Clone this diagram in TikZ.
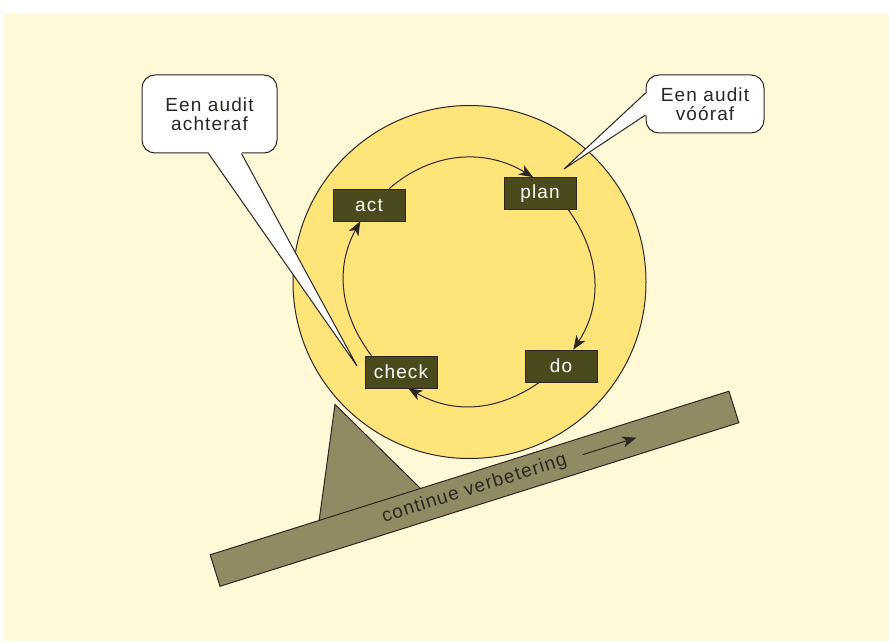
\documentclass[tikz,border=0pt]{standalone}
\usepackage{fontspec}
\setmainfont{Liberation Sans}[LetterSpace=6]
\usetikzlibrary{
  arrows.meta,
  positioning,
}
\definecolor{paper}{HTML}{FFF9D8}
\definecolor{wheel}{HTML}{FFE47A}
\definecolor{boxolive}{HTML}{4A4A1C}
\definecolor{ramp}{HTML}{918B63}
\definecolor{ink}{HTML}{2B2622}
\tikzset{
  >={Stealth[length=14pt,width=11pt,inset=4pt]},
}

\begin{document}
\begin{tikzpicture}[
    x=1pt, y=1pt,
    every node/.style={font=\fontsize{19}{19}\selectfont},
    phase/.style={draw=ink, fill=boxolive, text=white!92!paper,
      minimum width=72pt, minimum height=32pt, inner sep=0pt, line width=0.8pt},
    turn/.style={->, draw=ink, line width=1pt},
    balloon/.style={draw=ink, fill=white, text=ink, align=center,
      rounded corners=13pt, line width=1pt},
  ]
  % paper
  \fill[white] (0,0) rectangle (889,641);
  \fill[paper] (4,0) rectangle (889,628);
  \useasboundingbox (0,0) rectangle (889,641);

  % the wheel with the four steps
  \coordinate (hub) at (469.5,359);
  \draw[ink, fill=wheel, line width=1pt] (hub) circle (176.5);

  \node[phase] (act)   at (369,436)   {act};
  \node[phase] (plan)  at (540,447.5) {plan};
  \node[phase] (do)    at (561,275)   {do};
  \node[phase] (check) at (401,269)   {check};

  \draw[turn] (act.39)    to[out=41, in=149]  (plan.113);
  \draw[turn] (plan.-30)  to[out=-54, in=57]  (do.53);
  \draw[turn] (do.217)    to[out=-145, in=-30] (check.294);
  \draw[turn] (check.151) to[out=127, in=241] (act.242);

  % wedge and slope
  \draw[ink, fill=ramp, line width=1pt]
    (335,236.5) -- (318.2,113.6) -- (424.3,148.8) -- cycle;
  \node[draw=ink, fill=ramp, text=ink, line width=1pt, rotate=17.5,
    minimum width=544pt, minimum height=33pt] (bar) at (474.5,152.25)
    {continue verbetering};
  \coordinate (rise) at ([shift={(17.5:113.6)}]bar.center);
  \coordinate (rise end) at ([shift={(17.5:169.7)}]bar.center);
  \draw[->, ink, line width=1pt] (rise) -- (rise end);

  % callouts
  \node[balloon, minimum width=135pt, minimum height=78pt] (after)
    at (209.5,527) {Een audit\\achteraf};
  \node[balloon, minimum width=118pt, minimum height=58pt] (before)
    at (705,537) {Een audit\\vóóraf};
  \coordinate (after tip) at (357,275);
  \coordinate (before tip) at (564,472);

  \fill[white] ([shift={(-1,1.5)}]after.south) -- (after tip)
    -- ([shift={(32,1.5)}]after.south) -- cycle;
  \draw[ink, line width=1pt] ([xshift=-1pt]after.south) -- (after tip)
    -- ([xshift=32pt]after.south);
  \fill[white] ([shift={(1.5,11)}]before.west) -- (before tip)
    -- ([shift={(1.5,-11)}]before.west) -- cycle;
  \draw[ink, line width=1pt] ([yshift=11pt]before.west) -- (before tip)
    -- ([yshift=-11pt]before.west);
\end{tikzpicture}
\end{document}
